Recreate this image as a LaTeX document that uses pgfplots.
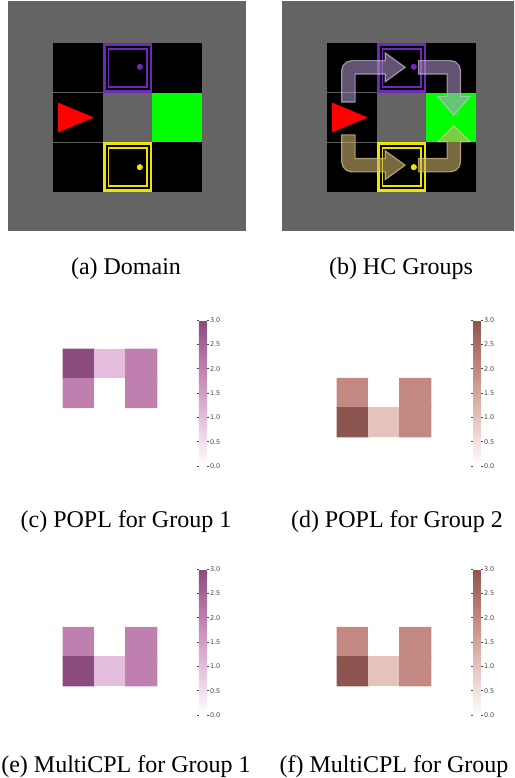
\documentclass[border=0pt]{standalone}
\usepackage{fontspec}
\setmainfont{Liberation Serif}
\newfontfamily\dejavu{DejaVu Sans}
\usepackage{pgfplots}
\pgfplotsset{compat=1.18}

% one pixel of the reference
\newcommand{\px}{0.416667pt}

\definecolor{bggray}{RGB}{100,100,100}
\definecolor{gridln}{RGB}{92,92,92}
\definecolor{mgpurple}{RGB}{108,42,182}
\definecolor{mgyellow}{RGB}{238,228,0}
\definecolor{mggreen}{RGB}{0,255,0}
\definecolor{arrpur}{RGB}{180,152,210}
\definecolor{arrpuredge}{RGB}{205,188,222}
\definecolor{arryel}{RGB}{200,175,105}
\definecolor{arryeledge}{RGB}{220,200,135}
\definecolor{cbtext}{RGB}{70,70,70}

\pgfplotsset{
  colormap={pur}{rgb255=(255,255,255) rgb255=(228,189,220) rgb255=(191,128,176) rgb255=(139,76,125)},
  colormap={brn}{rgb255=(255,255,255) rgb255=(229,194,188) rgb255=(194,136,129) rgb255=(141,85,80)},
  gridworld/.style={anchor=north west, width=99.17pt, height=95.83pt, scale only axis,
    xmin=-0.905, xmax=3.88, ymin=-0.785, ymax=3.845, hide axis},
  heat/.style={anchor=north west, width=65.25pt, height=60.83pt, scale only axis,
    xmin=0, xmax=5, ymin=0, ymax=5, y dir=reverse, hide axis,
    point meta min=0, point meta max=3, colorbar,
    colorbar shift/.style={xshift=4.46pt},
    colorbar style={at={(parent axis.north east)}, anchor=north west,
      width=3.21pt, ytick={0,0.5,1,1.5,2,2.5,3},
      major tick length=0.85pt, tick align=outside,
      tick style={draw=cbtext, line width=0.2pt},
      axis line style={draw=none},
      yticklabel style={font=\dejavu\fontsize{2.7}{3}\selectfont, text=cbtext, inner xsep=0.35pt,
        /pgf/number format/.cd, fixed, fixed zerofill, precision=1, assume math mode=true}}},
}

% the 3x3 grid world, cells are unit squares, y upwards
\newcommand{\gridworld}{%
  \addplot[fill=bggray, draw=none] coordinates {(-0.905,-0.785) (3.88,-0.785) (3.88,3.845) (-0.905,3.845)} --cycle;
  \addplot[fill=black, draw=none] coordinates {(0,2) (3,2) (3,3) (0,3)} --cycle;
  \addplot[fill=black, draw=none] coordinates {(0,0) (3,0) (3,1) (0,1)} --cycle;
  \addplot[fill=black, draw=none] coordinates {(0,1) (1,1) (1,2) (0,2)} --cycle;
  \addplot[gridln, line width=0.4pt] coordinates {(0,1) (2,1)};
  \addplot[gridln, line width=0.4pt] coordinates {(0,2) (2,2)};
  \addplot[fill=mggreen, draw=none] coordinates {(2,1) (3,1) (3,2) (2,2)} --cycle;
  % purple box
  \addplot[mgpurple, line width=1.2pt] coordinates {(1.03,2.03) (1.97,2.03) (1.97,2.97) (1.03,2.97)} --cycle;
  \addplot[mgpurple, line width=0.8pt] coordinates {(1.115,2.115) (1.885,2.115) (1.885,2.885) (1.115,2.885)} --cycle;
  \addplot[only marks, mark=*, mark size=1.05pt, color=mgpurple] coordinates {(1.745,2.52)};
  % yellow box
  \addplot[mgyellow, line width=1.2pt] coordinates {(1.03,0.03) (1.97,0.03) (1.97,0.97) (1.03,0.97)} --cycle;
  \addplot[mgyellow, line width=0.8pt] coordinates {(1.115,0.115) (1.885,0.115) (1.885,0.885) (1.115,0.885)} --cycle;
  \addplot[only marks, mark=*, mark size=1.05pt, color=mgyellow] coordinates {(1.745,0.5)};
  % agent
  \addplot[fill=red, draw=none] coordinates {(0.1,1.8) (0.82,1.5) (0.1,1.2)} --cycle;
}

\begin{document}
\begin{tikzpicture}
\path[use as bounding box] (0,0) rectangle ({514*\px},{-778*\px});
\clip (0,0) rectangle ({514*\px},{-778*\px});

% (a) Domain
\begin{axis}[gridworld, at={({8*\px},{-1*\px})}]
\gridworld
\end{axis}

% (b) HC Groups
\begin{axis}[gridworld, at={({282*\px},{-1*\px})}]
\gridworld
\addplot[fill=arrpur, fill opacity=0.55, draw=arrpuredge, draw opacity=0.7, line width=0.5pt] coordinates {
  (0.565,1.81) (0.565,2.375) (1.17,2.375) (1.17,2.22) (1.57,2.51) (1.17,2.80) (1.17,2.645)
  (0.495,2.645) (0.395,2.618) (0.322,2.545) (0.295,2.445) (0.295,1.81)} --cycle;
\addplot[fill=arrpur, fill opacity=0.55, draw=arrpuredge, draw opacity=0.7, line width=0.5pt] coordinates {
  (1.84,2.645) (2.485,2.645) (2.585,2.618) (2.658,2.545) (2.685,2.445) (2.685,1.92) (2.87,1.92)
  (2.55,1.55) (2.23,1.92) (2.415,1.92) (2.415,2.375) (1.84,2.375)} --cycle;
\addplot[fill=arryel, fill opacity=0.6, draw=arryeledge, draw opacity=0.7, line width=0.5pt] coordinates {
  (0.295,1.15) (0.295,0.605) (0.322,0.505) (0.395,0.432) (0.495,0.405) (1.17,0.405) (1.17,0.25)
  (1.57,0.54) (1.17,0.83) (1.17,0.675) (0.565,0.675) (0.565,1.15)} --cycle;
\addplot[fill=arryel, fill opacity=0.6, draw=arryeledge, draw opacity=0.7, line width=0.5pt] coordinates {
  (1.84,0.405) (2.485,0.405) (2.585,0.432) (2.658,0.505) (2.685,0.605) (2.685,1.01) (2.87,1.01)
  (2.55,1.33) (2.23,1.01) (2.415,1.01) (2.415,0.675) (1.84,0.675)} --cycle;
\end{axis}

% (c) POPL, group 1
\begin{axis}[heat, colormap name=pur, at={({31.7*\px},{-320*\px})}]
\addplot[matrix plot*, mesh/cols=3, point meta=explicit] table[meta=c] {
x   y   c
1.5 1.5 3
2.5 1.5 1
3.5 1.5 2
1.5 2.5 2
2.5 2.5 0
3.5 2.5 2
};
\end{axis}

% (d) POPL, group 2
\begin{axis}[heat, colormap name=brn, at={({305.7*\px},{-320*\px})}]
\addplot[matrix plot*, mesh/cols=3, point meta=explicit] table[meta=c] {
x   y   c
1.5 2.5 2
2.5 2.5 0
3.5 2.5 2
1.5 3.5 3
2.5 3.5 1
3.5 3.5 2
};
\end{axis}

% (e) MultiCPL, group 1
\begin{axis}[heat, colormap name=pur, at={({31.7*\px},{-569*\px})}]
\addplot[matrix plot*, mesh/cols=3, point meta=explicit] table[meta=c] {
x   y   c
1.5 2.5 2
2.5 2.5 0
3.5 2.5 2
1.5 3.5 3
2.5 3.5 1
3.5 3.5 2
};
\end{axis}

% (f) MultiCPL, group 2
\begin{axis}[heat, colormap name=brn, at={({305.7*\px},{-569*\px})}]
\addplot[matrix plot*, mesh/cols=3, point meta=explicit] table[meta=c] {
x   y   c
1.5 2.5 2
2.5 2.5 0
3.5 2.5 2
1.5 3.5 3
2.5 3.5 1
3.5 3.5 2
};
\end{axis}

\node[anchor=base, font=\fontsize{10}{12}\selectfont] at ({126*\px},{-274*\px}) {(a) Domain};
\node[anchor=base, font=\fontsize{10}{12}\selectfont] at ({401*\px},{-274*\px}) {(b) HC Groups};
\node[anchor=base, font=\fontsize{10}{12}\selectfont] at ({126*\px},{-527*\px}) {(c) POPL for Group 1};
\node[anchor=base, font=\fontsize{10}{12}\selectfont] at ({397*\px},{-527*\px}) {(d) POPL for Group 2};
\node[anchor=base, font=\fontsize{10}{12}\selectfont] at ({126*\px},{-772*\px}) {(e) MultiCPL for Group 1};
\node[anchor=base, font=\fontsize{10}{12}\selectfont] at ({403*\px},{-772*\px}) {(f) MultiCPL for Group 2};
\end{tikzpicture}
\end{document}
